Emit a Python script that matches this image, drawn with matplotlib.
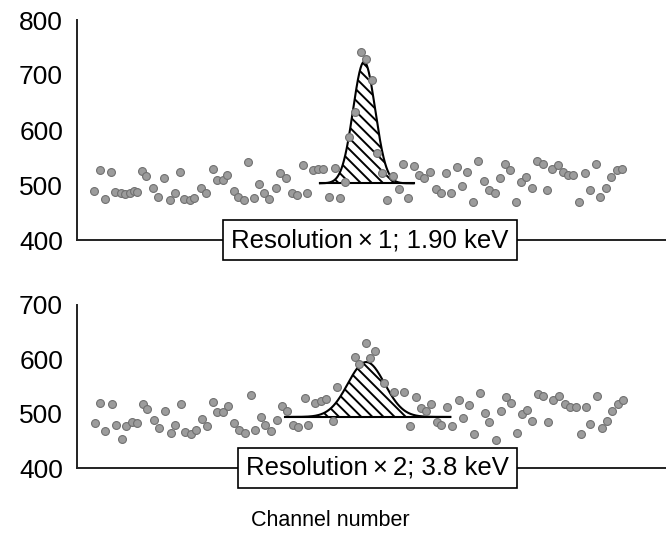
import numpy as np
import matplotlib
matplotlib.use('Agg')
import matplotlib.pyplot as plt

plt.rcParams['font.family'] = ['Liberation Sans', 'DejaVu Sans']
plt.rcParams['hatch.linewidth'] = 1.4

# ---- top spectrum: resolution x1 ----
ch_top = [3.2, 4.4, 5.4, 6.4, 7.2, 8.4, 9.2, 10.0, 10.8, 11.4,
          12.4, 13.2, 14.4, 15.4, 16.6, 17.6, 18.6, 19.6, 20.4, 21.4,
          22.2, 23.5, 24.6, 25.8, 26.6, 27.8, 28.6, 29.8, 30.6, 31.8,
          32.6, 33.6, 34.6, 35.6, 36.6, 37.8, 38.6, 39.8, 40.8, 41.8,
          43.0, 43.8, 44.8, 45.8, 46.8, 48.0, 49.0, 50.0, 51.0, 51.8,
          52.8, 54.0, 55.0, 56.0, 57.0, 58.0, 59.0, 60.0, 61.2, 62.0,
          63.0, 64.0, 65.0, 66.0, 67.2, 68.2, 69.2, 70.2, 71.2, 72.2,
          73.2, 74.2, 75.3, 76.2, 77.4, 78.4, 79.4, 80.4, 81.4, 82.4,
          83.4, 84.4, 85.4, 86.5, 87.4, 88.6, 89.4, 90.4, 91.4, 92.4,
          93.4, 94.4, 95.4, 96.6, 97.6, 98.6, 99.4, 100.6, 101.6, 102.6,
          103.6]
counts_top = [489, 527, 475, 524, 487, 485, 483, 486, 490, 488,
              525, 517, 494, 479, 512, 472, 485, 523, 474, 472,
              476, 494, 485, 529, 509, 509, 519, 489, 478, 473,
              541, 476, 501, 485, 474, 494, 521, 512, 485, 482,
              536, 485, 527, 529, 529, 479, 531, 476, 506, 588,
              632, 741, 730, 691, 558, 521, 472, 517, 492, 539,
              477, 535, 518, 512, 524, 492, 485, 521, 485, 533,
              499, 523, 470, 544, 507, 491, 485, 512, 538, 527,
              470, 506, 515, 494, 544, 539, 491, 530, 536, 524,
              518, 518, 469, 521, 491, 539, 479, 494, 515, 527,
              530]
# fitted peak: centre, sigma, height, baseline, baseline extent
fit_top = dict(mu=54.6, sigma=2.1, peak=724, base=503, lo=46.2, hi=64.0)

# ---- bottom spectrum: resolution x2 ----
ch_bot = [3.4, 4.4, 5.4, 6.6, 7.5, 8.6, 9.4, 10.4, 11.4, 12.6,
          13.4, 14.6, 15.6, 16.8, 17.8, 18.6, 19.8, 20.6, 21.6, 22.6,
          23.8, 24.8, 25.8, 26.6, 27.8, 28.8, 29.8, 30.8, 32.0, 33.0,
          33.9, 35.0, 35.8, 36.8, 38.0, 39.0, 40.0, 41.0, 42.0, 43.4,
          44.0, 45.2, 46.4, 47.3, 48.6, 49.5, 52.8, 53.7, 54.9, 55.8,
          56.6, 58.3, 60.2, 62.2, 63.4, 64.4, 65.4, 66.4, 67.4, 68.4,
          69.2, 70.4, 71.4, 72.6, 73.4, 74.6, 75.4, 76.6, 77.6, 78.4,
          79.6, 80.6, 81.6, 82.6, 83.6, 84.6, 85.6, 86.6, 87.6, 88.6,
          89.6, 90.6, 91.6, 92.8, 93.8, 94.8, 95.8, 96.8, 97.6, 98.8,
          99.8, 100.8, 101.8, 102.8, 103.8]
counts_bot = [483, 520, 468, 518, 480, 453, 477, 485, 482, 518,
              509, 488, 473, 505, 465, 479, 517, 467, 462, 470,
              490, 477, 522, 503, 503, 514, 482, 470, 465, 535,
              470, 494, 479, 468, 488, 514, 505, 479, 475, 529,
              479, 520, 523, 527, 487, 549, 605, 591, 630, 602,
              616, 556, 540, 540, 477, 530, 511, 505, 517, 485,
              479, 513, 477, 526, 492, 516, 462, 538, 502, 484,
              452, 505, 530, 520, 464, 500, 506, 486, 536, 532,
              484, 526, 532, 518, 513, 513, 462, 513, 481, 532,
              474, 487, 505, 518, 526]
fit_bot = dict(mu=55.0, sigma=3.5, peak=595, base=494, lo=39.6, hi=71.0)

panels = [
    (ch_top, counts_top, fit_top, [400, 500, 600, 700, 800], (400, 800),
     'Resolution\u2009\u00d7\u20091; 1.90 keV', 0.497),
    (ch_bot, counts_bot, fit_bot, [400, 500, 600, 700], (400, 700),
     'Resolution\u2009\u00d7\u20092; 3.8 keV', 0.51),
]

fig = plt.figure(figsize=(6.66, 5.41), dpi=100)
ax_top = fig.add_axes([77/666, 1 - 240/541, 1 - 77/666, 220/541])
ax_bot = fig.add_axes([77/666, 1 - 468/541, 1 - 77/666, 163/541])

for ax, (ch, cnt, fit, ticks, ylim, label, bx) in zip([ax_top, ax_bot], panels):
    x = np.linspace(fit['lo'], fit['hi'], 400)
    y = fit['base'] + (fit['peak'] - fit['base']) * np.exp(-0.5 * ((x - fit['mu']) / fit['sigma'])**2)
    ax.fill_between(x, fit['base'], y, facecolor='white', edgecolor='black',
                    hatch='\\\\\\', linewidth=0, zorder=2)
    ax.plot(x, y, color='black', lw=1.5, zorder=3)
    ax.plot([fit['lo'], fit['hi']], [fit['base'], fit['base']], color='black', lw=1.5, zorder=3)
    ax.scatter(ch, cnt, s=32, facecolor='#9c9c9c', edgecolor='#707070', linewidth=0.8, zorder=4)

    ax.set_xlim(0, 112)
    ax.set_ylim(*ylim)
    ax.set_yticks(ticks)
    ax.set_xticks([])
    ax.tick_params(axis='y', length=0, pad=10, labelsize=19)
    for s in ['top', 'right']:
        ax.spines[s].set_visible(False)
    for s in ['left', 'bottom']:
        ax.spines[s].set_linewidth(1.4)
        ax.spines[s].set_color('#222222')
    ax.patch.set_visible(False)
    ax.text(bx, 0.0, label, transform=ax.transAxes, ha='center', va='center',
            fontsize=18.5, zorder=5,
            bbox=dict(boxstyle='square,pad=0.32', facecolor='white', edgecolor='black', linewidth=1.2))

fig.text(330/666, 1 - 520/541, 'Channel number', ha='center', va='center', fontsize=15.5)

fig.savefig('out.png', dpi=100)
